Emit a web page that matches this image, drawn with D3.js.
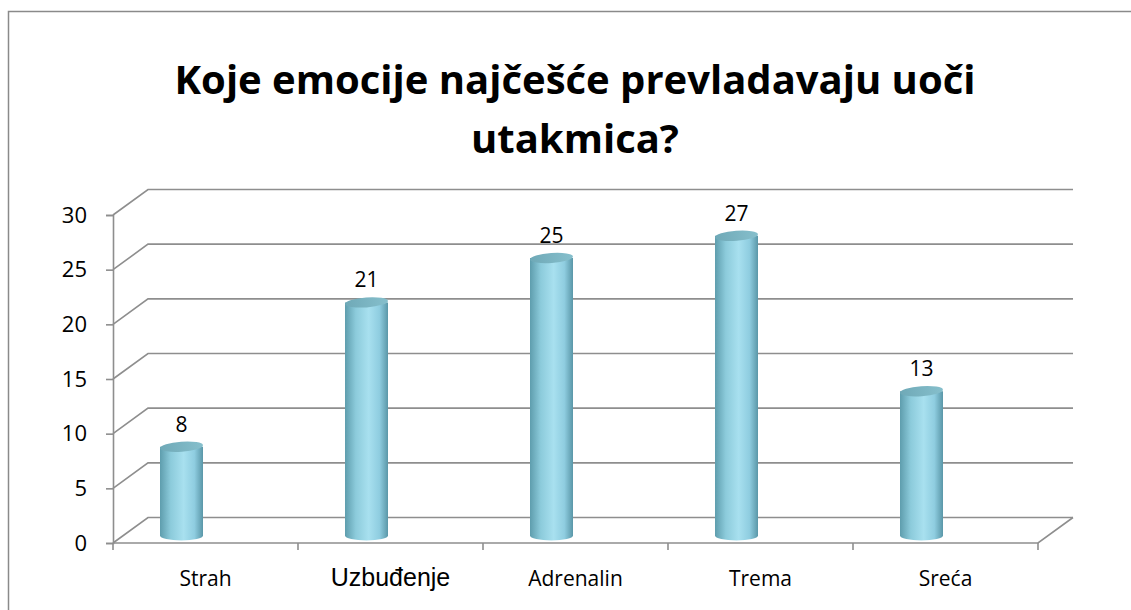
<!DOCTYPE html>
<html>
<head>
<meta charset="utf-8">
<script src="https://cdn.jsdelivr.net/npm/d3@7"></script>
<style>
  body { margin: 0; background: #fff; }
  svg { display: block; }
</style>
</head>
<body>
<svg width="1131" height="610"></svg>
<script>
// podaci
const categories = ["Strah", "Uzbuđenje", "Adrenalin", "Trema", "Sreća"];
const values = [8, 21, 25, 27, 13];
const yTicks = [0, 5, 10, 15, 20, 25, 30];
const titleLines = ["Koje emocije najčešće prevladavaju uoči", "utakmica?"];

const svg = d3.select("svg");
const W = 1131, H = 610;

const area = { left: 113, right: 1038, top: 215, bottom: 543, depthX: 35, depthY: -25.5 };
const gridColor = "#8e8e8e";

// okvir
svg.append("rect")
    .attr("x", 8.5).attr("y", 11.5)
    .attr("width", W + 10).attr("height", H + 10)
    .attr("fill", "none").attr("stroke", "#8a8a8a").attr("stroke-width", 1.5);

// naslov
const title = svg.append("g");
titleLines.forEach((t, i) => {
    title.append("text")
        .attr("x", 575).attr("y", 94 + i * 59)
        .attr("text-anchor", "middle")
        .style("font-family", "'Open Sans', 'Liberation Sans', sans-serif")
        .style("font-weight", "bold")
        .style("font-size", "40px")
        .style("fill", "#000")
        .text(t);
});

const scX = d3.scaleBand().domain(categories).range([area.left, area.right]);
const scY = d3.scaleLinear().domain([0, 30]).range([area.bottom, area.top]);
// visina valjaka (srednja dubina)
const scBar = d3.scaleLinear().domain([0, 30]).range([area.bottom - 7.5, area.top - 12.5]);

// mreža: zid lijevo i straga
const grid = svg.append("g")
    .attr("fill", "none").attr("stroke", gridColor).attr("stroke-width", 1.6);

yTicks.forEach(v => {
    const y = scY(v);
    grid.append("path")
        .attr("d", `M${area.left},${y} L${area.left + area.depthX},${y + area.depthY} L${area.right + area.depthX},${y + area.depthY}`);
});
// pod
grid.append("path")
    .attr("d", `M${area.left},${area.bottom} L${area.right},${area.bottom} L${area.right + area.depthX},${area.bottom + area.depthY}`);

// os y
const axisY = d3.axisLeft(scY).tickValues(yTicks).tickSize(7).tickPadding(19);
const gY = svg.append("g").attr("transform", `translate(${area.left},0)`).call(axisY);
gY.select(".domain").attr("stroke", gridColor).attr("stroke-width", 1.6);
gY.selectAll(".tick line").attr("stroke", gridColor).attr("stroke-width", 1.6);
gY.selectAll("text")
    .style("font-family", "'Open Sans', 'DejaVu Sans', sans-serif")
    .style("font-size", "22px").style("fill", "#000");

// os x - crtice
const bounds = categories.map(c => scX(c)).concat([area.right]);
svg.append("g").selectAll("line").data(bounds).join("line")
    .attr("x1", d => d).attr("x2", d => d)
    .attr("y1", area.bottom).attr("y2", area.bottom + 7)
    .attr("stroke", gridColor).attr("stroke-width", 1.6);

svg.append("g").selectAll("text").data(categories).join("text")
    .attr("x", d => scX(d) + scX.bandwidth() / 2)
    .attr("y", 586)
    .attr("text-anchor", "middle")
    .style("font-family", d => d === "Uzbuđenje" ? "'Liberation Sans', Arial, sans-serif" : "'Open Sans', sans-serif")
    .style("font-size", d => d === "Uzbuđenje" ? "25px" : "21px")
    .style("fill", "#000")
    .text(d => d);

// gradijenti
const defs = svg.append("defs");
const grad = defs.append("linearGradient").attr("id", "cyl").attr("x1", "0").attr("x2", "1").attr("y1", "0").attr("y2", "0");
[["0%", "#5e9dad"], ["25%", "#8ccbdb"], ["55%", "#a8e0ef"], ["80%", "#8fcde0"], ["100%", "#5a97a8"]]
    .forEach(s => grad.append("stop").attr("offset", s[0]).attr("stop-color", s[1]));
const gradTop = defs.append("linearGradient").attr("id", "cylTop").attr("x1", "0").attr("x2", "1");
[["0%", "#6fa9b7"], ["100%", "#86bfcc"]]
    .forEach(s => gradTop.append("stop").attr("offset", s[0]).attr("stop-color", s[1]));

// valjci
const rx = 21.5, ry = 5;
const bars = svg.append("g").selectAll("g").data(categories).join("g")
    .attr("transform", (d) => `translate(${scX(d) + scX.bandwidth() / 2 - 24},0)`);

bars.append("path")
    .attr("d", (d, i) => {
        const yT = scBar(values[i]), yB = scBar(0);
        return `M${-rx},${yT} L${-rx},${yB} A${rx},${ry} 0 0 0 ${rx},${yB} L${rx},${yT} Z`;
    })
    .attr("fill", "url(#cyl)");

bars.append("ellipse")
    .attr("cx", 0).attr("cy", (d, i) => scBar(values[i]))
    .attr("rx", rx).attr("ry", ry)
    .attr("transform", (d, i) => `rotate(-4,0,${scBar(values[i])})`)
    .attr("fill", "url(#cylTop)");

// oznake vrijednosti
bars.append("text")
    .attr("x", 0)
    .attr("y", (d, i) => scBar(values[i]) - 15)
    .attr("text-anchor", "middle")
    .style("font-family", "'Open Sans', sans-serif")
    .style("font-size", "21px").style("fill", "#000")
    .text((d, i) => values[i]);
</script>
</body>
</html>
